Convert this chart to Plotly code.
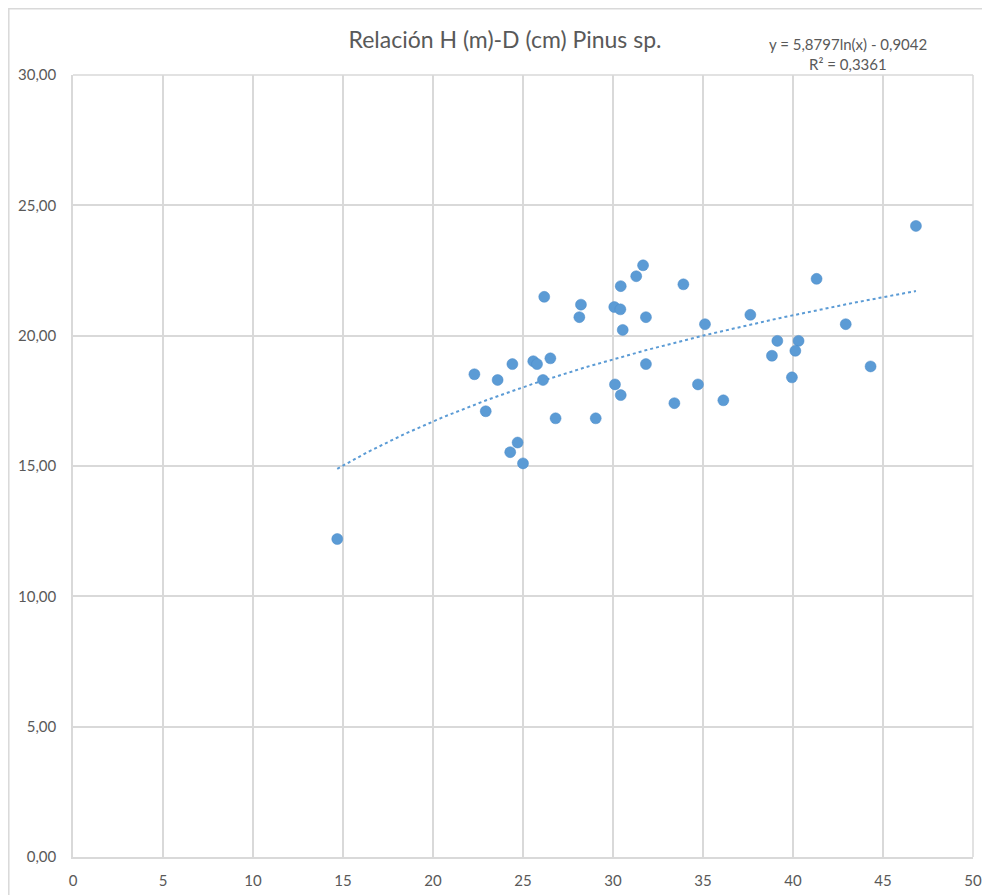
import numpy as np
import plotly.graph_objects as go

# Data: diameter D (cm) and height H (m)
diam_cm = [14.68, 22.30, 22.93, 23.59, 24.41, 24.29, 24.70, 25.00, 25.57, 25.78,
           26.52, 26.11, 26.18, 26.81, 28.13, 28.22, 29.04, 30.07, 30.41, 30.43,
           30.54, 30.11, 30.43, 31.29, 31.67, 31.83, 31.83, 33.91, 35.11, 37.63,
           41.31, 46.83, 42.93, 39.13, 40.31, 40.13, 38.83, 39.94, 44.31, 33.41,
           34.72, 36.13]
height_m = [12.20, 18.52, 17.10, 18.30, 18.91, 15.53, 15.90, 15.10, 19.02, 18.91,
            19.13, 18.30, 21.49, 16.83, 20.71, 21.19, 16.83, 21.10, 21.01, 21.90,
            20.22, 18.13, 17.72, 22.28, 22.70, 20.71, 18.91, 21.97, 20.44, 20.80,
            22.18, 24.21, 20.44, 19.80, 19.80, 19.42, 19.23, 18.40, 18.82, 17.41,
            18.13, 17.52]

# Logarithmic trendline coefficients shown on the chart
trend_a = 5.8797
trend_b = -0.9042
eq_text = "y = 5,8797ln(x) - 0,9042"
r2_text = "R² = 0,3361"
title_text = "Relación H (m)-D (cm) Pinus sp."

x_ticks = [0, 5, 10, 15, 20, 25, 30, 35, 40, 45, 50]
y_ticks = [0, 5, 10, 15, 20, 25, 30]

tx = np.linspace(min(diam_cm), max(diam_cm), 200)
ty = trend_a * np.log(tx) + trend_b

FONT = "Lato, 'Open Sans', sans-serif"
GREY = "#595959"
GRID = "#d9d9d9"
BLUE = "#5b9bd5"

# page body has an 8px margin; plot area lands at screen x 73..973, y 75..857
W, H = 982, 887

fig = go.Figure()
fig.add_trace(go.Scatter(x=tx, y=ty, mode="lines",
                         line=dict(color=BLUE, width=2, dash="dot"),
                         hoverinfo="skip", showlegend=False))
fig.add_trace(go.Scatter(x=diam_cm, y=height_m, mode="markers",
                         marker=dict(color=BLUE, size=11,
                                     line=dict(color="#4a8bc9", width=0.5)),
                         showlegend=False))

fig.update_layout(
    width=W, height=H,
    margin=dict(l=65, r=17, t=67, b=38, autoexpand=False),
    paper_bgcolor="white", plot_bgcolor="white",
    separators=",.",
    font=dict(family=FONT, color=GREY, size=15),
    title=dict(text=title_text, x=497 / W,
               xanchor="center", y=1 - 32 / H, yanchor="middle",
               font=dict(size=23, color=GREY, family=FONT)),
    xaxis=dict(range=[0, 50], tickvals=x_ticks, showgrid=True, gridcolor=GRID,
               gridwidth=1.5, zeroline=False, showline=True, linecolor=GRID,
               linewidth=1.5, ticks="", tickfont=dict(size=15, color=GREY),
               ticklabelstandoff=9),
    yaxis=dict(range=[0, 30], tickvals=y_ticks, tickformat=".2f", showgrid=True,
               gridcolor=GRID, gridwidth=1.5, zeroline=False, showline=True,
               linecolor=GRID, linewidth=1.5, ticks="",
               tickfont=dict(size=15, color=GREY), ticklabelstandoff=12),
    annotations=[
        dict(text=eq_text, xref="paper", yref="paper",
             x=(848 - 73) / 900, y=(857 - 44) / 782, xanchor="center",
             yanchor="middle", showarrow=False,
             font=dict(size=15, color=GREY, family=FONT)),
        dict(text=r2_text, xref="paper", yref="paper",
             x=(848 - 73) / 900, y=(857 - 64) / 782, xanchor="center",
             yanchor="middle", showarrow=False,
             font=dict(size=15, color=GREY, family=FONT)),
    ],
    shapes=[
        dict(type="rect", xref="paper", yref="paper",
             x0=(8.8 - 73) / 900, x1=(1000 - 73) / 900,
             y0=(857 - 905) / 782, y1=(857 - 8.8) / 782,
             line=dict(color=GRID, width=1.5), fillcolor="rgba(0,0,0,0)",
             layer="below"),
        dict(type="line", xref="paper", yref="paper", x0=1, x1=1, y0=0, y1=1,
             line=dict(color=GRID, width=1.5)),
        dict(type="line", xref="paper", yref="paper", x0=0, x1=1, y0=1, y1=1,
             line=dict(color=GRID, width=1.5)),
    ],
)

fig.write_html("out.html")
